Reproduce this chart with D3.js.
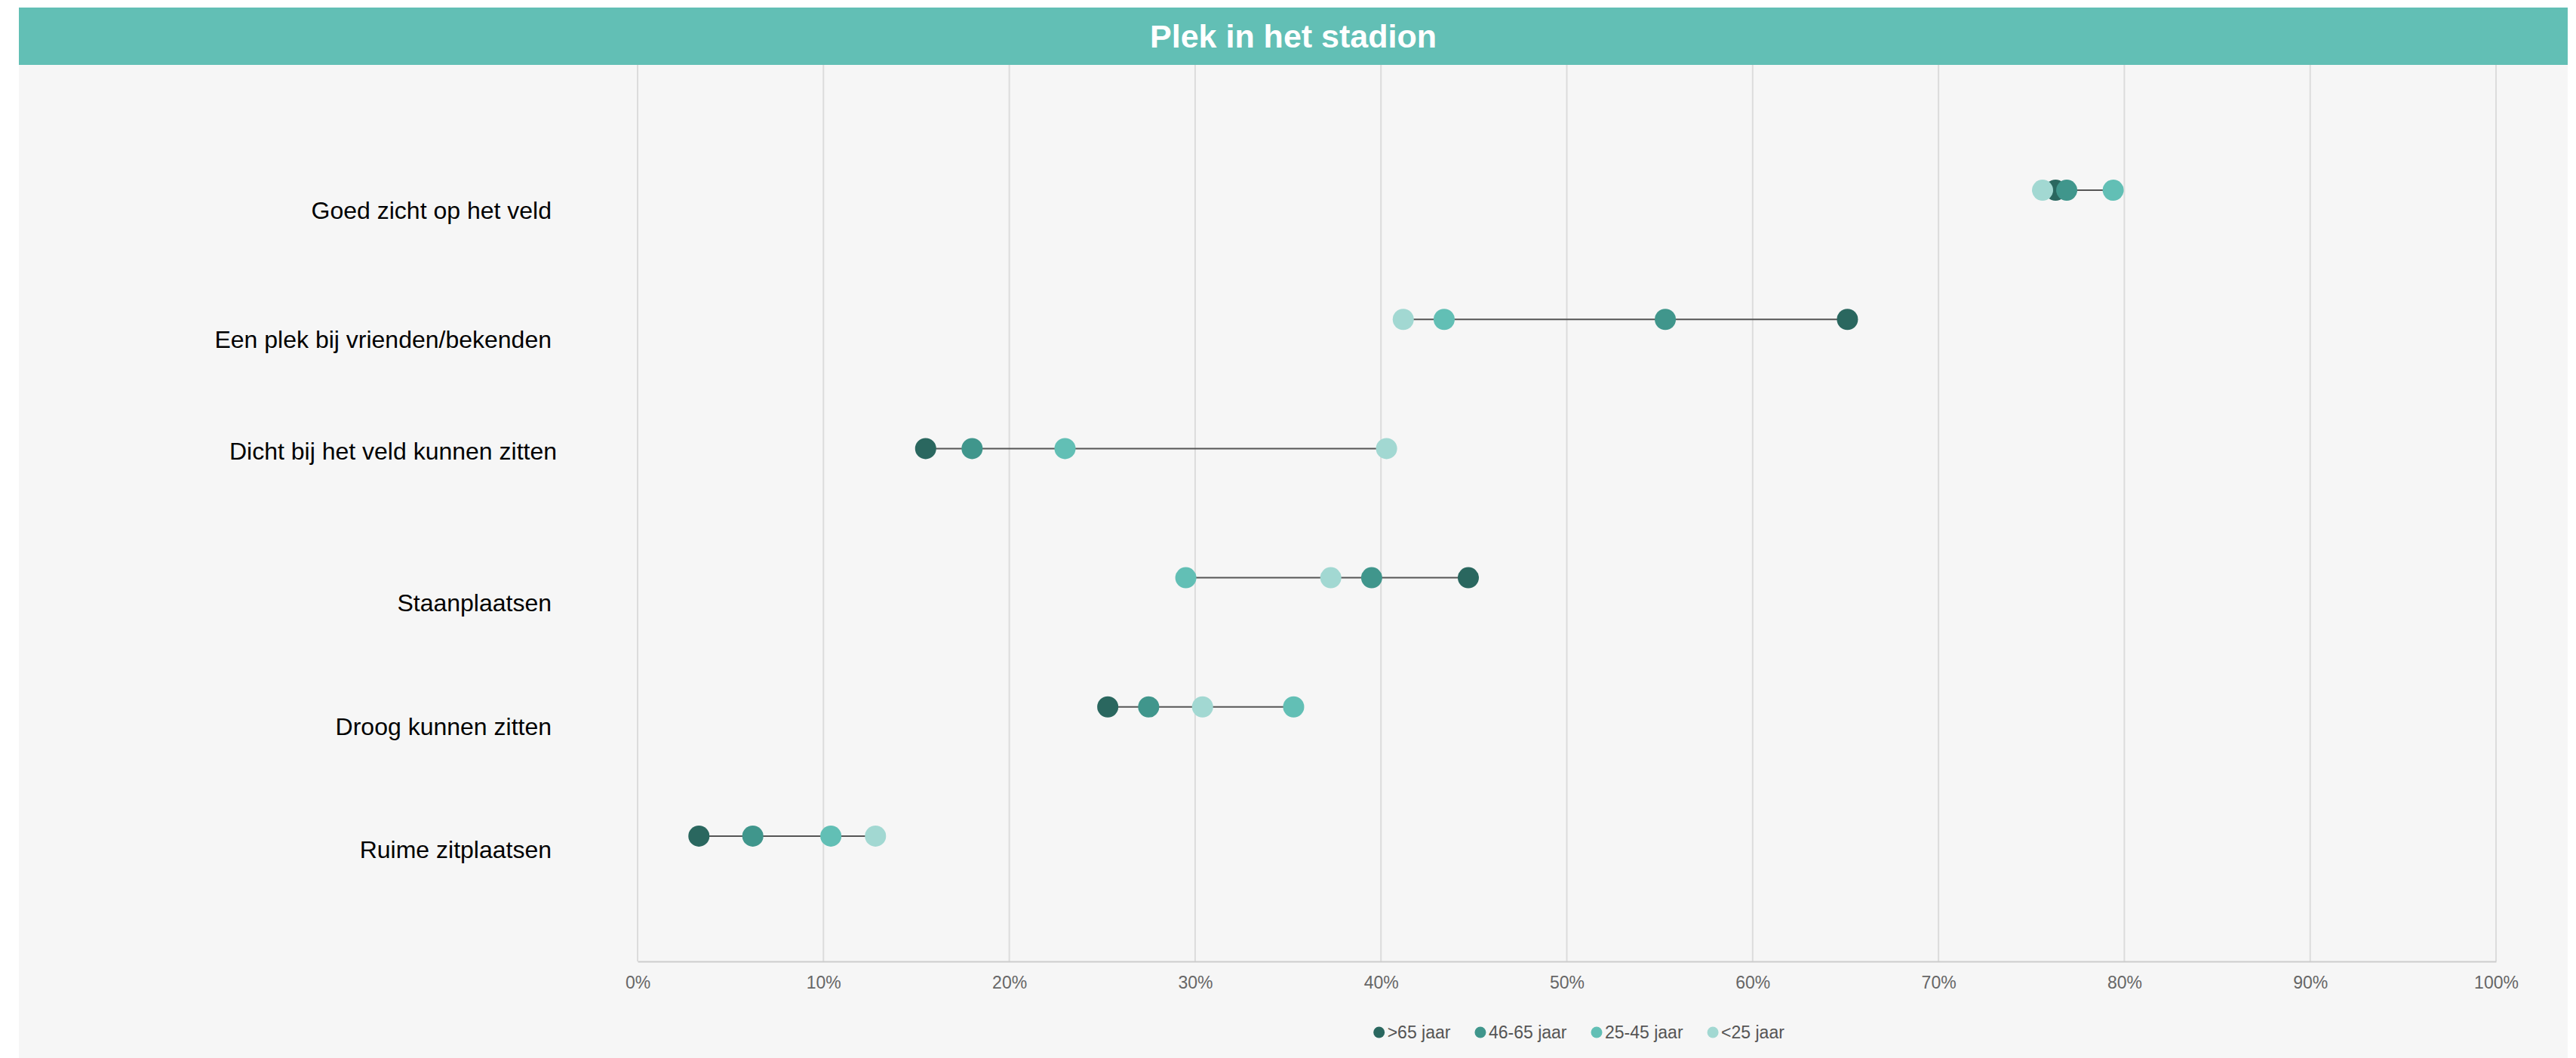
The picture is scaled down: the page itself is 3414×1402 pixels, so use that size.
<!DOCTYPE html>
<html>
<head>
<meta charset="utf-8">
<script src="https://cdn.jsdelivr.net/npm/d3@7"></script>
<style>
  html, body { margin: 0; padding: 0; background: #ffffff; }
  svg { display: block; }
  text { font-family: "Liberation Sans", Arial, sans-serif; }
</style>
</head>
<body>
<svg id="chart" width="3414" height="1402"></svg>
<script>
// ---------- DATA ----------
const title = "Plek in het stadion";
const categories = [
  "Goed zicht op het veld",
  "Een plek bij vrienden/bekenden",
  "Dicht bij het veld kunnen zitten",
  "Staanplaatsen",
  "Droog kunnen zitten",
  "Ruime zitplaatsen"
];
const seriesNames = [">65 jaar", "46-65 jaar", "25-45 jaar", "<25 jaar"];
const over65   = [76.3, 65.1, 15.5, 44.7, 25.3, 3.3];
const age46_65 = [76.9, 55.3, 18.0, 39.5, 27.5, 6.2];
const age25_45 = [79.4, 43.4, 23.0, 29.5, 35.3, 10.4];
const under25  = [75.6, 41.2, 40.3, 37.3, 30.4, 12.8];
const tickValues = [0, 10, 20, 30, 40, 50, 60, 70, 80, 90, 100];

// ---------- LAYOUT / STYLE ----------
const colors = ["#2a675f", "#40968c", "#62bfb5", "#a2d8d2"];
const seriesValues = [over65, age46_65, age25_45, under25];
const W = 3414, H = 1402;
const frame = { left: 25, right: 3403, top: 10 };
const bandH = 76;
const plot = { left: 845, right: 3308, top: 86, bottom: 1274 };
const labelNudge = [27, 27, 4, 33, 26, 18];
const labelShiftX = [0, 0, 7, 0, 0, 0];

const svg = d3.select("#chart");

// background panel
svg.append("rect")
  .attr("x", frame.left).attr("y", frame.top)
  .attr("width", frame.right - frame.left).attr("height", H - frame.top)
  .attr("fill", "#f6f6f6");

// title band
svg.append("rect")
  .attr("x", frame.left).attr("y", frame.top)
  .attr("width", frame.right - frame.left).attr("height", bandH)
  .attr("fill", "#62bfb5");
svg.append("text")
  .attr("x", (frame.left + frame.right) / 2)
  .attr("y", frame.top + bandH / 2)
  .attr("text-anchor", "middle")
  .attr("dominant-baseline", "central")
  .attr("fill", "#ffffff")
  .attr("font-size", 43)
  .attr("font-weight", "bold")
  .text(title);

// scales
const x = d3.scaleLinear().domain([0, 100]).range([plot.left, plot.right]);
const y = d3.scalePoint().domain(categories).range([plot.top, plot.bottom]).padding(0.97);

// gridlines
svg.append("g").selectAll("line")
  .data(tickValues)
  .join("line")
  .attr("x1", d => x(d)).attr("x2", d => x(d))
  .attr("y1", plot.top).attr("y2", plot.bottom)
  .attr("stroke", "#dcdcdc")
  .attr("stroke-width", 2);

// x axis
const xAxis = d3.axisBottom(x)
  .tickValues(tickValues)
  .tickFormat(d => d + "%")
  .tickSize(0)
  .tickPadding(20);
const gx = svg.append("g")
  .attr("transform", `translate(0,${plot.bottom})`)
  .call(xAxis);
gx.select(".domain").attr("stroke", "#cccccc").attr("stroke-width", 2);
gx.selectAll("text")
  .attr("font-size", 23)
  .attr("fill", "#666666")
  .attr("font-family", "'Liberation Sans', Arial, sans-serif");

// category labels
svg.append("g").selectAll("text")
  .data(categories)
  .join("text")
  .attr("x", (d, i) => 731 + labelShiftX[i])
  .attr("y", (d, i) => y(d) + labelNudge[i])
  .attr("text-anchor", "end")
  .attr("dominant-baseline", "central")
  .attr("font-size", 32)
  .attr("fill", "#000000")
  .text(d => d);

// rows
const rows = categories.map((c, i) => ({
  cat: c,
  vals: seriesValues.map((s, k) => ({ k, v: s[i] }))
}));

const gRows = svg.append("g").selectAll("g")
  .data(rows)
  .join("g")
  .attr("transform", d => `translate(0,${y(d.cat)})`);

gRows.append("line")
  .attr("x1", d => x(d3.min(d.vals, e => e.v)))
  .attr("x2", d => x(d3.max(d.vals, e => e.v)))
  .attr("y1", 0).attr("y2", 0)
  .attr("stroke", "#555555")
  .attr("stroke-width", 2);

gRows.selectAll("circle")
  .data(d => d.vals)
  .join("circle")
  .attr("cx", d => x(d.v))
  .attr("cy", 0)
  .attr("r", 14)
  .attr("fill", d => colors[d.k]);

// legend
const legend = svg.append("g");
const items = legend.selectAll("g")
  .data(seriesNames)
  .join("g");
items.append("circle")
  .attr("r", 7.5)
  .attr("cx", 0).attr("cy", 0)
  .attr("fill", (d, i) => colors[i]);
items.append("text")
  .attr("x", 11)
  .attr("y", 0)
  .attr("dominant-baseline", "central")
  .attr("font-size", 23)
  .attr("fill", "#555555")
  .text(d => d);
let cursor = 0;
const gap = 32;
items.each(function () {
  const g = d3.select(this);
  const tw = g.select("text").node().getComputedTextLength();
  g.attr("transform", `translate(${cursor},0)`);
  cursor += 7.5 + 11 + tw + gap;
});
const totalW = cursor - gap;
const legendCenter = (plot.left + plot.right) / 2 + 16;
legend.attr("transform", `translate(${legendCenter - totalW / 2 + 7.5},1368)`);
</script>
</body>
</html>
